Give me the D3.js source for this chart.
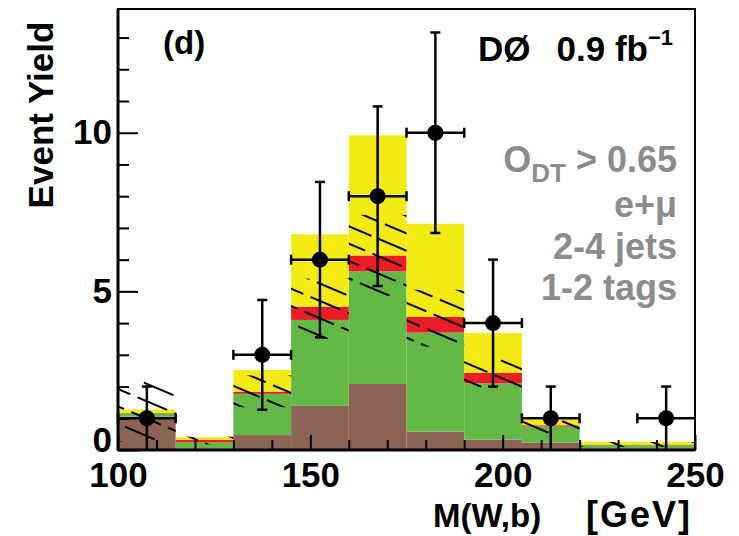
<!DOCTYPE html>
<html>
<head>
<meta charset="utf-8">
<script src="https://cdn.jsdelivr.net/npm/d3@7"></script>
<style>
  body { margin: 0; background: #fff; }
  text { font-family: "Liberation Sans", Arial, Helvetica, sans-serif; font-weight: bold; }
</style>
</head>
<body>
<svg width="739" height="536"></svg>
<script>
// M(W,b) distribution, D0 0.9 fb-1, panel (d)

// bin edges in GeV
var binEdges = [100, 115, 130, 145, 160, 175, 190, 205, 220, 235, 250];

// stacked components, height of each layer per bin
var brown  = [1.05, 0.02, 0.47, 1.39, 2.08, 0.58, 0.33, 0.23, 0.02, 0.02];
var green  = [0.11, 0.22, 1.30, 2.71, 3.55, 3.12, 1.77, 0.51, 0.13, 0.13];
var red    = [0.01, 0.08, 0.07, 0.42, 0.50, 0.50, 0.33, 0.04, 0.02, 0.02];
var yellow = [0.11, 0.08, 0.68, 2.28, 3.79, 2.93, 1.26, 0.17, 0.09, 0.09];

// hatched uncertainty band on the background
var bandLow  = [0.26, 0.18, 1.35, 3.50, 4.84, 3.26, 1.95, 0.47, 0.10, 0.10];
var bandHigh = [2.15, 0.42, 2.35, 5.40, 7.41, 5.05, 2.90, 1.05, 0.25, 0.25];

// data
var counts = [1, 0, 3, 6, 8, 10, 4, 1, 0, 1];
var errors = [1, 0, 1.73, 2.45, 2.83, 3.16, 2, 1, 0, 1];

var xMajor = [100, 150, 200, 250];
var xMinor = [110, 120, 130, 140, 160, 170, 180, 190, 210, 220, 230, 240];
var yMajor = [0, 5, 10];
var yMinor = [1, 2, 3, 4, 6, 7, 8, 9, 11, 12, 13];

var colors = ["#8c6455", "#64b946", "#eb1e28", "#f4ea14"];

var svg = d3.select("svg");

var x = d3.scaleLinear()
    .domain([100, 250])
    .range([118, 695]);

var y = d3.scaleLinear()
    .domain([0, 13.9])
    .range([450, 9]);

var bins = binEdges.slice(0, -1).map(function(lo, i) {
  return { lo: lo, hi: binEdges[i + 1], brown: brown[i], green: green[i], red: red[i], yellow: yellow[i],
           bandLow: bandLow[i], bandHigh: bandHigh[i], n: counts[i], err: errors[i] };
});

var stack = d3.stack().keys(["brown", "green", "red", "yellow"]);
var layers = stack(bins);

// hatch pattern
var defs = svg.append("defs");
defs.append("pattern")
    .attr("id", "hatch")
    .attr("patternUnits", "userSpaceOnUse")
    .attr("width", 40)
    .attr("height", 16)
    .attr("patternTransform", "rotate(23)")
  .append("line")
    .attr("x1", 2).attr("x2", 34)
    .attr("y1", 8).attr("y2", 8)
    .attr("stroke", "#000")
    .attr("stroke-width", 2);

svg.append("g")
    .attr("class", "stack")
  .selectAll("g")
  .data(layers)
  .enter().append("g")
    .attr("fill", function(d, i) { return colors[i]; })
  .selectAll("rect")
  .data(function(d) { return d; })
  .enter().append("rect")
    .attr("x", function(d) { return x(d.data.lo); })
    .attr("width", function(d) { return x(d.data.hi) - x(d.data.lo); })
    .attr("y", function(d) { return y(d[1]); })
    .attr("height", function(d) { return y(d[0]) - y(d[1]); });

svg.append("g")
    .attr("class", "band")
  .selectAll("rect")
  .data(bins)
  .enter().append("rect")
    .attr("x", function(d) { return x(d.lo); })
    .attr("width", function(d) { return x(d.hi) - x(d.lo); })
    .attr("y", function(d) { return y(d.bandHigh); })
    .attr("height", function(d) { return y(d.bandLow) - y(d.bandHigh); })
    .attr("fill", "url(#hatch)");

// axes, ticks pointing inward
var ax = svg.append("g").attr("class", "axes");

ax.append("g")
    .attr("transform", "translate(0,450)")
    .call(d3.axisBottom(x).tickValues(xMinor).tickSize(-10).tickFormat(""))
    .call(function(g) { g.select(".domain").remove(); });

ax.append("g")
    .attr("transform", "translate(0,450)")
    .call(d3.axisBottom(x).tickValues(xMajor).tickSize(-15).tickPadding(12).tickFormat(d3.format("d")))
    .call(function(g) { g.select(".domain").remove(); });

ax.append("g")
    .attr("transform", "translate(118,0)")
    .call(d3.axisLeft(y).tickValues(yMinor).tickSize(-11).tickFormat(""))
    .call(function(g) { g.select(".domain").remove(); });

ax.append("g")
    .attr("class", "yticks")
    .attr("transform", "translate(118,0)")
    .call(d3.axisLeft(y).tickValues(yMajor).tickSize(-20).tickPadding(6).tickFormat(d3.format("d")))
    .call(function(g) { g.select(".domain").remove(); });

ax.selectAll(".tick line").attr("stroke", "#000").attr("stroke-width", 2);
ax.selectAll(".tick text")
    .attr("fill", "#000")
    .style("font-size", "35px");

// the zero label sits a bit higher, clear of "100"
ax.select(".yticks").selectAll(".tick text")
    .filter(function(d) { return d === 0; })
    .attr("y", -10);

// frame
svg.append("rect")
    .attr("x", x(100))
    .attr("y", y(13.9))
    .attr("width", x(250) - x(100))
    .attr("height", y(0) - y(13.9))
    .attr("fill", "none")
    .attr("stroke", "#000")
    .attr("stroke-width", 2);

svg.append("line")
    .attr("x1", x(100)).attr("x2", x(100))
    .attr("y1", y(13.9)).attr("y2", y(0))
    .attr("stroke", "#000").attr("stroke-width", 3);

svg.append("line")
    .attr("x1", x(100)).attr("x2", x(250))
    .attr("y1", y(0)).attr("y2", y(0))
    .attr("stroke", "#000").attr("stroke-width", 3);

// data points
var pts = svg.append("g")
    .attr("class", "data")
    .attr("stroke", "#000")
    .attr("stroke-width", 2.5)
  .selectAll("g")
  .data(bins.filter(function(d) { return d.n > 0; }))
  .enter().append("g");

pts.append("line")
    .attr("x1", function(d) { return x(d.lo); })
    .attr("x2", function(d) { return x(d.hi); })
    .attr("y1", function(d) { return y(d.n); })
    .attr("y2", function(d) { return y(d.n); });

pts.append("line")
    .attr("x1", function(d) { return x((d.lo + d.hi) / 2); })
    .attr("x2", function(d) { return x((d.lo + d.hi) / 2); })
    .attr("y1", function(d) { return y(d.n - d.err); })
    .attr("y2", function(d) { return y(d.n + d.err); });

// caps
["lo", "hi"].forEach(function(k) {
  pts.filter(function(d) { return d[k] < 250; })
    .append("line")
      .attr("x1", function(d) { return x(d[k]); })
      .attr("x2", function(d) { return x(d[k]); })
      .attr("y1", function(d) { return y(d.n) - 5; })
      .attr("y2", function(d) { return y(d.n) + 5; });
});

[1, -1].forEach(function(s) {
  pts.filter(function(d) { return d.n - d.err > 0 || s > 0; })
    .append("line")
      .attr("x1", function(d) { return x((d.lo + d.hi) / 2) - 5; })
      .attr("x2", function(d) { return x((d.lo + d.hi) / 2) + 5; })
      .attr("y1", function(d) { return y(d.n + s * d.err); })
      .attr("y2", function(d) { return y(d.n + s * d.err); });
});

pts.append("circle")
    .attr("cx", function(d) { return x((d.lo + d.hi) / 2); })
    .attr("cy", function(d) { return y(d.n); })
    .attr("r", 8)
    .attr("fill", "#000")
    .attr("stroke", "none");

// labels
svg.append("text")
    .attr("transform", "translate(53,115) rotate(-90)")
    .attr("text-anchor", "middle")
    .style("font-size", "35px")
    .text("Event Yield");

svg.append("text")
    .attr("x", 433)
    .attr("y", 527)
    .style("font-size", "33px")
    .text("M(W,b)");

svg.append("text")
    .attr("x", 692)
    .attr("y", 527)
    .attr("text-anchor", "end")
    .style("font-size", "36px")
    .style("letter-spacing", "2px")
    .text("[GeV]");

svg.append("text")
    .attr("x", 163)
    .attr("y", 54)
    .style("font-size", "33px")
    .text("(d)");

var d0 = svg.append("text")
    .attr("x", 478)
    .attr("y", 61)
    .style("font-size", "35px");
d0.append("tspan").text("DØ");
d0.append("tspan").attr("dx", 26).text("0.9 fb");
d0.append("tspan").attr("dy", -16).style("font-size", "22px").text("−1");

var cuts = svg.append("g")
    .attr("fill", "#8c8c8c")
    .style("font-size", "36px")
    .attr("text-anchor", "end");

var c1 = cuts.append("text").attr("x", 677).attr("y", 172);
c1.append("tspan").text("O");
c1.append("tspan").attr("dy", 10).style("font-size", "26px").text("DT");
c1.append("tspan").attr("dy", -10).text(" > 0.65");

cuts.append("text").attr("x", 677).attr("y", 217).text("e+μ");
cuts.append("text").attr("x", 677).attr("y", 259).text("2-4 jets");
cuts.append("text").attr("x", 677).attr("y", 300).text("1-2 tags");
</script>
</body>
</html>
